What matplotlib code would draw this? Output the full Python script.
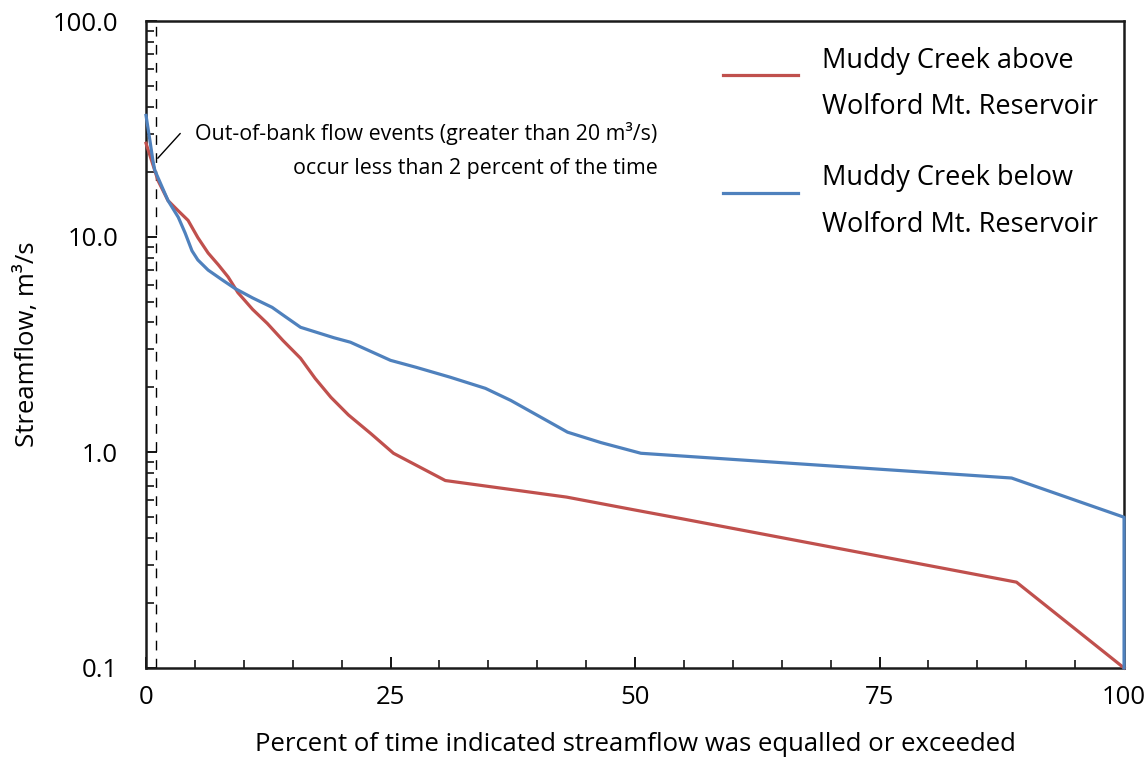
import numpy as np
import matplotlib.pyplot as plt
from matplotlib.ticker import FixedLocator, FuncFormatter, MultipleLocator, LogLocator, NullFormatter

plt.rcParams['font.family'] = ['Open Sans', 'DejaVu Sans']

# flow-duration curves, percent of time exceeded vs streamflow (m3/s)
pct_above = [0, 1.23, 2.25, 3.28, 4.3, 5.3, 6.35, 7.4, 8.4, 9.4, 10.9, 12.4, 14.0,
             15.8, 17.3, 18.9, 20.7, 23.0, 25.3, 30.6, 43.0, 50.0, 55.0, 89.0, 100]
flow_above = [27.1, 18.2, 14.7, 13.2, 11.9, 9.9, 8.4, 7.4, 6.5, 5.5, 4.6, 3.96, 3.3,
              2.73, 2.2, 1.8, 1.49, 1.22, 0.99, 0.74, 0.62, 0.54, 0.49, 0.25, 0.1]

pct_below = [0, 0.4, 0.7, 0.9, 2.25, 3.3, 4.0, 4.7, 5.3, 6.35, 7.8, 9.1, 10.9, 12.9,
             14.2, 15.8, 19.2, 20.9, 25.0, 27.6, 31.1, 34.7, 37.3, 43.1, 46.5, 50.6,
             88.5, 100, 100]
flow_below = [36.5, 27.9, 22.6, 20.3, 14.7, 12.3, 10.4, 8.6, 7.8, 7.0, 6.3, 5.75, 5.2, 4.7,
              4.27, 3.8, 3.4, 3.24, 2.67, 2.48, 2.23, 1.98, 1.74, 1.24, 1.11, 0.99,
              0.76, 0.5, 0.1]

label_above = 'Muddy Creek above\nWolford Mt. Reservoir'
label_below = 'Muddy Creek below\nWolford Mt. Reservoir'
flood_pct = 1.0
note = 'Out-of-bank flow events (greater than 20 m\u00b3/s)\noccur less than 2 percent of the time'

FS = 18.5

fig = plt.figure(figsize=(11.47, 7.7), dpi=100)
ax = fig.add_axes([0.1273, 0.1325, 0.8527, 0.8402])

ax.plot(pct_above, flow_above, color='#C0504D', lw=2.3, label=label_above, clip_on=False, zorder=3)
ax.plot(pct_below, flow_below, color='#4F81BD', lw=2.3, label=label_below, clip_on=False, zorder=4)

# dashed marker for the out-of-bank threshold plus its note
ax.axvline(flood_pct, color='black', lw=1.0, ls=(0, (7, 6)), zorder=2)
ax.annotate('', xy=(1.2, 23.1), xytext=(3.5, 30.1),
            arrowprops=dict(arrowstyle='-', color='black', lw=1.0, shrinkA=0, shrinkB=0))
ax.text(52.3, 25.1, note, ha='right', va='center', fontsize=15.4, linespacing=1.8)

ax.set_yscale('log')
ax.set_xlim(0, 100)
ax.set_ylim(0.1, 100)

ax.xaxis.set_major_locator(FixedLocator([0, 25, 50, 75, 100]))
ax.xaxis.set_minor_locator(MultipleLocator(5))
ax.yaxis.set_major_locator(FixedLocator([0.1, 1, 10, 100]))
ax.yaxis.set_minor_locator(LogLocator(base=10, subs=np.arange(2, 10)))
ax.yaxis.set_minor_formatter(NullFormatter())
ax.yaxis.set_major_formatter(FuncFormatter(lambda v, p: '%.1f' % v))

ax.tick_params(axis='both', which='both', direction='in', color='black', labelsize=FS)
ax.tick_params(axis='x', which='major', length=8, width=1.3, pad=12)
ax.tick_params(axis='x', which='minor', length=5.5, width=1.1)
ax.tick_params(axis='y', which='major', length=8, width=1.3, pad=20)
ax.tick_params(axis='y', which='minor', length=6, width=1.1)
for s in ax.spines.values():
    s.set_linewidth(1.8)
    s.set_color('#1a1a1a')

ax.set_xlabel('Percent of time indicated streamflow was equalled or exceeded', fontsize=FS, labelpad=16)
ax.set_ylabel('Streamflow, m\u00b3/s', fontsize=FS, labelpad=9)

leg = ax.legend(loc='upper right', bbox_to_anchor=(1.0, 1.0), frameon=False, fontsize=19.5,
                handlelength=2.75, handletextpad=0.9, labelspacing=1.6, borderaxespad=0.55)
for t in leg.get_texts():
    t.set_linespacing(1.87)
# lift the legend lines to sit between the two label rows
for h in leg.legend_handles:
    h.set_ydata([v + 7 for v in h.get_ydata()])

fig.savefig('out.png', dpi=100)
